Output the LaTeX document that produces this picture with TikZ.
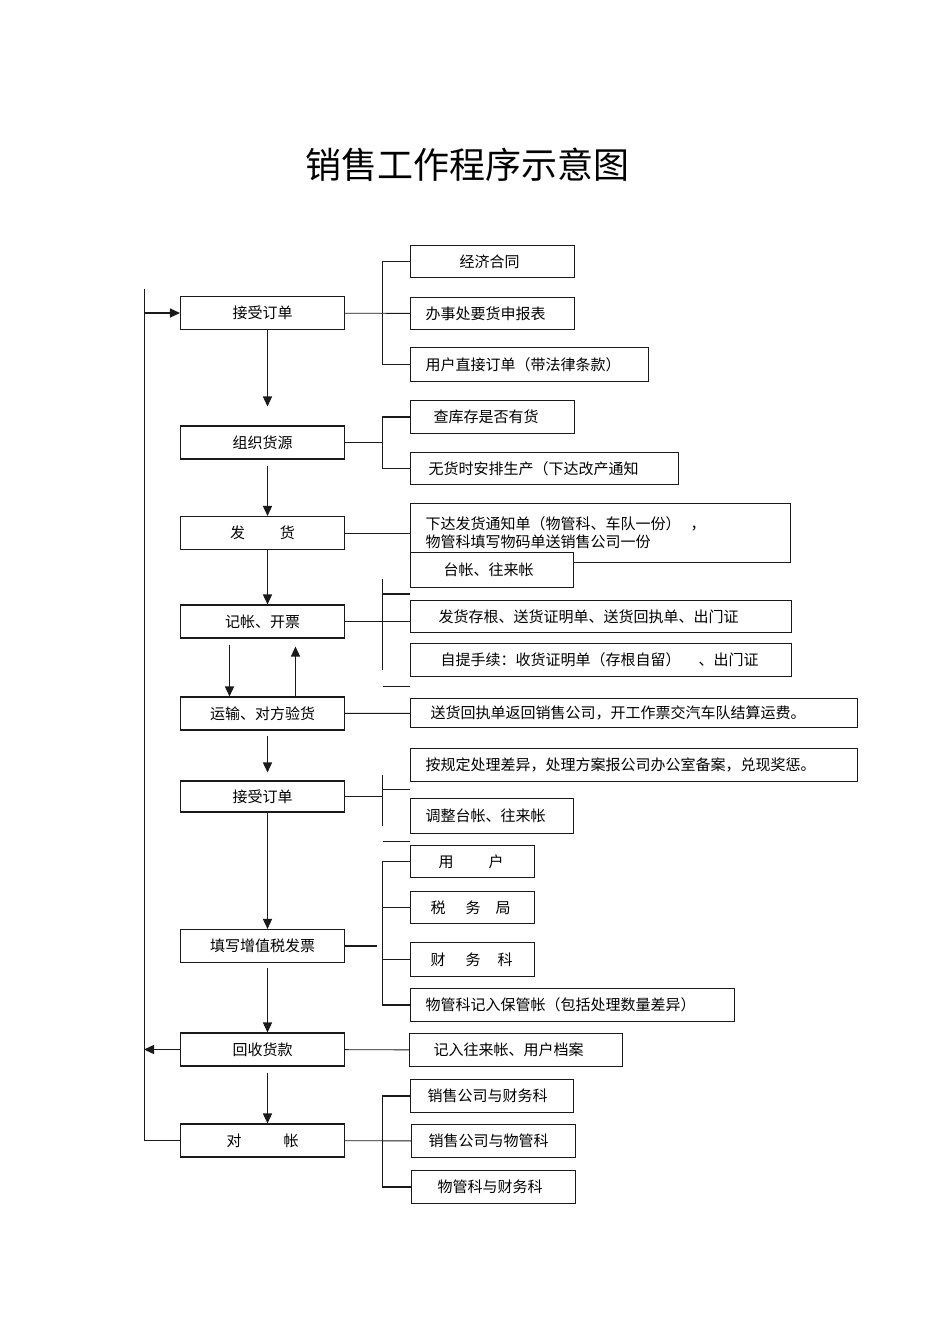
\documentclass[tikz,border=0pt]{standalone}
\usepackage{fontspec}
\usepackage{tikz}
\usetikzlibrary{arrows.meta, positioning}
\newfontfamily\cjk{Noto Sans CJK SC}
\newcommand{\boxfont}{\cjk\fontsize{15pt}{18pt}\selectfont}
\newcommand{\titlefont}{\cjk\fontsize{36pt}{40pt}\selectfont}
\definecolor{ink}{HTML}{1A1A1A}

\begin{document}
\begin{tikzpicture}[
  x=1pt, y=-1pt,
  main/.style  = {rectangle, draw=ink, fill=white, line width=1.1pt, minimum width=164pt,
                  minimum height=33pt, inner sep=0pt, font=\boxfont},
  sub/.style   = {rectangle, draw=ink, fill=white, line width=1.1pt, anchor=north west,
                  align=left, inner ysep=0pt, font=\boxfont},
  arrow/.style = {-{Triangle[length=10pt,width=9pt]}, line width=1.4pt, color=ink},
  link/.style  = {line width=0.9pt, color=ink},
  brace/.style = {line width=1.8pt, color=ink},
]
  \fill[white] (0,0) rectangle (950,1344);
  \useasboundingbox (0,0) rectangle (950,1344);

  \node[font=\titlefont] (title) at (467.5,165) {销售工作程序示意图};

  % main column
  \node[main] (order)     at (262.5,313)    {接受订单};
  \node[main] (source)    at (262.5,442.5)  {组织货源};
  \node[main] (ship)      at (262.5,533)    {发\hspace{35pt}货};
  \node[main] (invoice)   at (262.5,621.5)  {记帐、开票};
  \node[main] (transport) at (262.5,713.5)  {运输、对方验货};
  \node[main, minimum height=31pt] (order2) at (262.5,796.5) {接受订单};
  \node[main] (vat)       at (262.5,946)    {填写增值税发票};
  \node[main] (payment)   at (262.5,1049.5) {回收货款};
  \node[main] (reconcile) at (262.5,1140.5) {对\hspace{42pt}帐};

  % side boxes
  \node[sub, minimum height=32pt, inner xsep=49pt, text width=66pt]  (contract) at (410,245) {经济合同};
  \node[sub, minimum height=32pt, inner xsep=15pt, text width=134pt] (request)  at (410,297) {办事处要货申报表};
  \node[sub, minimum height=34pt, inner xsep=15pt, text width=208pt] (direct)   at (410,347) {用户直接订单（带法律条款）};

  \node[sub, minimum height=33pt, inner xsep=23pt, text width=118pt] (stock)    at (410,400) {查库存是否有货};
  \node[sub, minimum height=32pt, inner xsep=18pt, text width=232pt] (produce)  at (410,452) {无货时安排生产（下达改产通知};

  \node[sub, minimum height=59pt, inner xsep=15pt, text width=350pt] (notice)   at (410,503)
    {下达发货通知单（物管科、车队一份）\hspace{10pt}，\\物管科填写物码单送销售公司一份};
  \node[sub, minimum height=35pt, inner xsep=33pt, text width=97pt]  (ledger)   at (410,552) {台帐、往来帐};

  \node[sub, minimum height=32pt, inner xsep=28pt, text width=325pt] (stub)     at (410,600) {发货存根、送货证明单、送货回执单、出门证};
  \node[sub, minimum height=33pt, inner xsep=30pt, text width=321pt] (pickup)   at (410,643) {自提手续：收货证明单（存根自留）\hspace{18pt}、出门证};

  \node[sub, minimum height=29pt, inner xsep=20pt, text width=407pt] (receipt)  at (410,698) {送货回执单返回销售公司，开工作票交汽车队结算运费。};

  \node[sub, minimum height=33pt, inner xsep=15pt, text width=417pt] (diff)     at (410,748) {按规定处理差异，处理方案报公司办公室备案，兑现奖惩。};
  \node[sub, minimum height=35pt, inner xsep=15pt, text width=133pt] (adjust)   at (410,798) {调整台帐、往来帐};

  \node[sub, minimum height=32pt, inner xsep=28pt, text width=68pt]  (user)     at (410,845) {用\hspace{35pt}户};
  \node[sub, minimum height=32pt, inner xsep=20pt, text width=84pt]  (tax)      at (410,891) {税\hspace{20pt}务\hspace{15pt}局};
  \node[sub, minimum height=34pt, inner xsep=20pt, text width=84pt]  (finance)  at (410,942) {财\hspace{20pt}务\hspace{17pt}科};
  \node[sub, minimum height=33pt, inner xsep=15pt, text width=294pt] (custody)  at (410,988) {物管科记入保管帐（包括处理数量差异）};

  \node[sub, minimum height=33pt, inner xsep=24pt, text width=165pt] (archive)  at (409,1033) {记入往来帐、用户档案};

  \node[sub, minimum height=33pt, inner xsep=17pt, text width=129pt] (recA)     at (410,1079) {销售公司与财务科};
  \node[sub, minimum height=33pt, inner xsep=17pt, text width=130pt] (recB)     at (411,1124) {销售公司与物管科};
  \node[sub, minimum height=33pt, inner xsep=26pt, text width=112pt] (recC)     at (411,1170) {物管科与财务科};

  % bracket points
  \coordinate (lt) at (144,289);
  \coordinate (s1) at (382.5,313);
  \coordinate (s2) at (382.5,442.5);
  \coordinate (t4) at (382.5,579);
  \coordinate (b4) at (382.5,670);
  \coordinate (k4) at (382.5,594);
  \coordinate (d4) at (382.5,686.5);
  \coordinate (t6) at (382.5,775);
  \coordinate (b6) at (382.5,826);
  \coordinate (k6) at (382.5,789);
  \coordinate (d6) at (382.5,841);
  \coordinate (s7) at (382.5,946);
  \coordinate (e7) at (377,946);
  \coordinate (s9) at (382.5,1140.5);

  % main flow
  \draw[arrow, shorten >=19pt] ([xshift=5pt]order.south) -- ([xshift=5pt]source.north);
  \draw[arrow, shorten <=6pt]  ([xshift=5pt]source.south) -- ([xshift=5pt]ship.north);
  \draw[arrow]                 ([xshift=5pt]ship.south) -- ([xshift=5pt]invoice.north);
  \draw[arrow, shorten <=6pt]  ([xshift=-33pt]invoice.south) -- ([xshift=-33pt]transport.north);
  \draw[arrow, shorten >=8pt]  ([xshift=33pt]transport.north) -- ([xshift=33pt]invoice.south);
  \draw[arrow, shorten <=5pt, shorten >=8pt] ([xshift=5pt]transport.south) -- ([xshift=5pt]order2.north);
  \draw[arrow]                 ([xshift=5pt]order2.south) -- ([xshift=5pt]vat.north);
  \draw[arrow, shorten <=5pt]  ([xshift=5pt]vat.south) -- ([xshift=5pt]payment.north);
  \draw[arrow, shorten <=6pt]  ([xshift=5pt]payment.south) -- ([xshift=5pt]reconcile.north);

  % loop back
  \draw[link] (lt) |- (reconcile.west);
  \draw[arrow] (order.west -| lt) -- (order.west);
  \draw[arrow] (payment.west) -- (payment.west -| lt);

  % branches
  \draw[link]  (order) -- (request);
  \draw[brace] (contract.west) -| (s1) |- (direct.west);

  \draw[link]  (source) -- (s2);
  \draw[brace] (stock.west) -| (s2) |- (produce.west);

  \draw[link]  (ship.east) -- (ship.east -| notice.west);

  \draw[link]  (invoice.east) -- (invoice.east -| stub.west);
  \draw[brace] (t4) -- (b4);
  \draw[brace] (k4) -- (k4 -| stub.west);
  \draw[brace] (d4) -- (d4 -| stub.west);

  \draw[link]  (transport) -- (receipt);

  \draw[link]  (order2.east) -- (order2.east -| t6);
  \draw[brace] (t6) -- (b6);
  \draw[link]  (k6) -- (k6 -| adjust.west);
  \draw[link]  (d6) -- (d6 -| adjust.west);

  \draw[brace] (vat) -- (e7);
  \draw[brace] (user.west) -| (s7) |- (custody.west);
  \draw[link]  (tax.west) -- (tax.west -| s7);
  \draw[link]  (finance.west) -- (finance.west -| s7);

  \draw[link]  (payment) -- (archive);

  \draw[link]  (reconcile) -- (recB);
  \draw[brace] (recA.west) -| (s9) |- (recC.west);
\end{tikzpicture}
\end{document}
